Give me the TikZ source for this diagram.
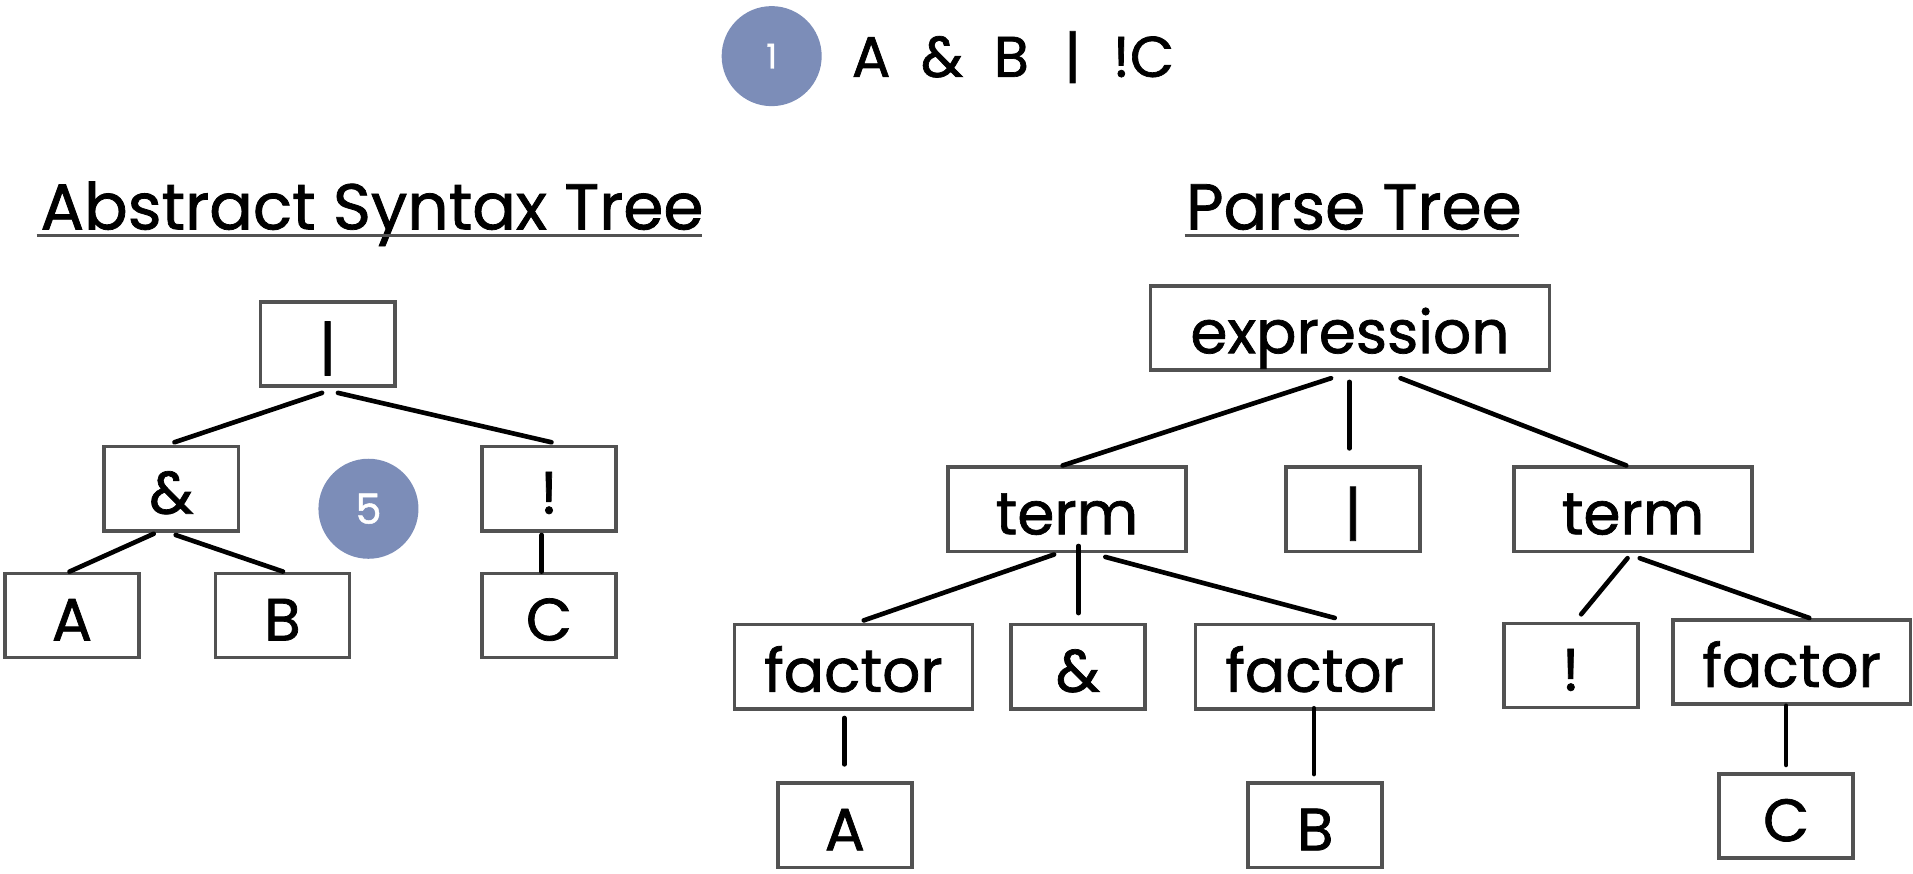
\documentclass[tikz,border=0pt]{standalone}
\usepackage{fontspec}
\setmainfont{Poppins}[FakeBold=1.2]
\usetikzlibrary{calc}
\definecolor{dotblue}{RGB}{124,141,184}
\definecolor{boxgray}{RGB}{82,82,82}
\tikzset{
  tbox/.style={draw=boxgray, line width=3pt, fill=white, inner sep=0pt,
    minimum height=69pt, text height=45pt, text depth=4pt,
    font=\fontsize{49}{52}\selectfont},
  sbox/.style={tbox, minimum width=110pt},
  wbox/.style={tbox, minimum width=195pt},
  conn/.style={line width=3.8pt, black, line cap=round},
  dot/.style={circle, fill=dotblue, minimum size=82pt, inner sep=0pt, text=white},
  ttl/.style={anchor=base west, inner sep=0pt, font=\fontsize{53}{56}\selectfont},
  uline/.style={draw=boxgray, line width=1.8pt}
}
\begin{document}
\begin{tikzpicture}[x=1pt,y=-1pt]
\useasboundingbox (0,0) rectangle (1568,716);
% header
\node[dot, font=\fontsize{28}{30}\selectfont] (d1) at (632.5,46) {1};
\node[anchor=base west, inner sep=0pt, font=\fontsize{47}{50}\selectfont] (expr0) at (698,63)
  {A\hspace*{25pt}\&\hspace*{25pt}B\hspace*{29pt}|\hspace*{26pt}!C};
% titles
\node[ttl] (t1) at (33,188) {Abstract Syntax Tree};
\node[ttl] (t2) at (972,188) {Parse Tree};
\coordinate (u1a) at (30,193); \coordinate (u1b) at (575,193);
\coordinate (u2a) at (971,193); \coordinate (u2b) at (1245,193);
\draw[uline] (u1a) -- (u1b);
\draw[uline] (u2a) -- (u2b);
% AST
\node[sbox] (bar) at (268.5,282) {|};
\node[sbox] (amp) at (140.5,400.5) {\&};
\node[sbox] (bang) at (450,400.5) {!};
\node[sbox] (a) at (59,504.5) {A};
\node[sbox] (b) at (231.5,504.5) {B};
\node[sbox] (c) at (450,504.5) {C};
\node[dot, font=\fontsize{34}{36}\selectfont] (d5) at (302,417) {5};
\draw[conn] ([xshift=-4.5pt,yshift=-4pt]bar.south) -- ([xshift=2.5pt,yshift=2pt]amp.north);
\draw[conn] ([xshift=8.5pt,yshift=-4pt]bar.south) -- ([xshift=2pt,yshift=2pt]bang.north);
\draw[conn] ([xshift=-14.5pt,yshift=-1pt]amp.south) -- ([xshift=-2pt]a.north);
\draw[conn] ([xshift=3.5pt,yshift=-2pt]amp.south) -- ([xshift=0.5pt]b.north);
\draw[conn] ([xshift=-6pt,yshift=-2pt]bang.south) -- ([xshift=-6pt]c.north);
% Parse tree
\node[tbox, minimum width=327pt] (ex) at (1106.5,269) {expression};
\node[wbox] (t1n) at (874.5,417.5) {term};
\node[sbox] (bar2) at (1109,417.5) {|};
\node[wbox] (t2n) at (1338.5,417.5) {term};
\node[wbox] (f1) at (699.5,546.5) {factor};
\node[sbox] (amp2) at (883.5,546.5) {\&};
\node[wbox] (f2) at (1077.5,546.5) {factor};
\node[sbox] (bang2) at (1287.5,545.5) {!};
\node[wbox] (f3) at (1468.5,542.5) {factor};
\node[sbox] (a2) at (692.5,676.5) {A};
\node[sbox] (b2) at (1078,676.5) {B};
\node[sbox] (c2) at (1464,669) {C};
\draw[conn] ([xshift=-15.5pt,yshift=-5pt]ex.south) -- ([xshift=-3.5pt]t1n.north);
\draw[conn] ([xshift=-0.5pt,yshift=-8pt]ex.south) -- ([xshift=-3pt,yshift=14pt]bar2.north);
\draw[conn] ([xshift=41.5pt,yshift=-5pt]ex.south) -- ([xshift=-5.5pt]t2n.north);
\draw[conn] ([xshift=-10.5pt,yshift=-1pt]t1n.south) -- ([xshift=8.5pt,yshift=2pt]f1.north);
\draw[conn] ([xshift=9.5pt,yshift=6pt]t1n.south) -- ([xshift=0.5pt,yshift=8pt]amp2.north);
\draw[conn] ([xshift=31.5pt,yshift=-3pt]t1n.south) -- ([xshift=16.5pt,yshift=4pt]f2.north);
\draw[conn] ([xshift=-4.5pt,yshift=-4pt]t2n.south) -- ([xshift=8.5pt,yshift=6pt]bang2.north);
\draw[conn] ([xshift=5.5pt,yshift=-4pt]t2n.south) -- ([xshift=14.5pt]f3.north);
\draw[conn] ([xshift=-7.5pt,yshift=-6pt]f1.south) -- ([xshift=-0.5pt,yshift=14pt]a2.north);
\draw[conn] ([xshift=-0.5pt,yshift=2pt]f2.south) -- ([xshift=-1pt,yshift=6pt]b2.north);
\draw[conn] ([xshift=-4.5pt]f3.south) -- ([yshift=6pt]c2.north);
\end{tikzpicture}
\end{document}
